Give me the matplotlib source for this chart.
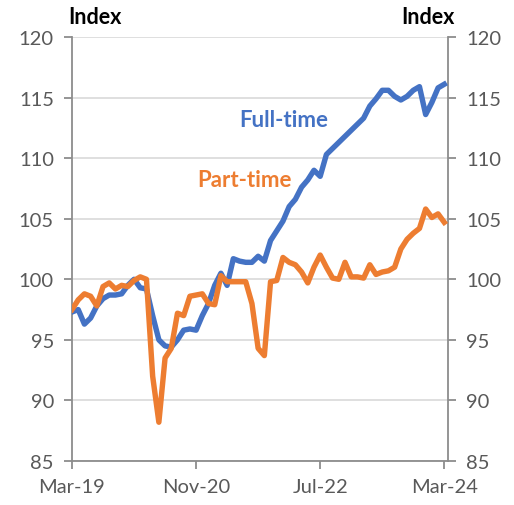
import matplotlib
matplotlib.use("Agg")
import matplotlib.pyplot as plt
import numpy as np

plt.rcParams['font.family'] = ['Lato', 'DejaVu Sans']

tick_labels = ["Mar-19", "Nov-20", "Jul-22", "Mar-24"]
tick_months = [0, 20, 40, 60]

full_time = [97.3, 97.5, 96.3, 96.8, 97.8, 98.4, 98.7, 98.7, 98.8, 99.5,
             100.0, 99.3, 99.2, 97.0, 95.0, 94.5, 94.4, 95.0, 95.8, 95.9,
             95.8, 97.0, 98.0, 99.5, 100.5, 99.5, 101.7, 101.5, 101.4, 101.4,
             101.9, 101.5, 103.2, 104.0, 104.8, 106.0, 106.6, 107.6, 108.2, 109.0,
             108.5, 110.3, 110.8, 111.3, 111.8, 112.3, 112.8, 113.3, 114.3, 114.9,
             115.6, 115.6, 115.1, 114.8, 115.1, 115.6, 115.9, 113.6, 114.6, 115.8,
             116.1]

part_time = [97.5, 98.3, 98.8, 98.6, 97.8, 99.4, 99.7, 99.2, 99.5, 99.4,
             99.9, 100.2, 100.0, 92.0, 88.2, 93.5, 94.3, 97.2, 97.0, 98.6,
             98.7, 98.8, 98.0, 97.9, 100.3, 99.8, 99.8, 99.8, 99.8, 98.0,
             94.3, 93.7, 99.8, 99.9, 101.8, 101.4, 101.2, 100.6, 99.7, 101.0,
             102.0, 101.0, 100.1, 100.0, 101.4, 100.2, 100.2, 100.1, 101.2, 100.4,
             100.6, 100.7, 101.0, 102.5, 103.3, 103.8, 104.2, 105.8, 105.1, 105.4,
             104.7]

months = np.arange(len(full_time))

fig = plt.figure(figsize=(5.14, 5.06), dpi=100)
ax = fig.add_axes([72/514, 44/506, 376/514, 424/506])

blue = "#4472C4"
orange = "#ED7D31"
gray = "#8c8c8c"
txtgray = "#595959"

ax.plot(months, full_time, color=blue, lw=3.9, solid_joinstyle='round', zorder=3)
ax.plot(months, part_time, color=orange, lw=3.9, solid_joinstyle='round', zorder=4)

ax.set_xlim(0, 60.6)
ax.set_ylim(85, 120)
yt = np.arange(85, 121, 5)
ax.set_yticks(yt)
ax.yaxis.grid(True, color="#d9d9d9", lw=1.2, zorder=0)
ax.set_axisbelow(True)
ax.set_xticks(tick_months)
ax.set_xticklabels(tick_labels)

ax.spines['top'].set_visible(False)
for s in ['left', 'right', 'bottom']:
    ax.spines[s].set_color(gray)
    ax.spines[s].set_linewidth(1.3)

ax.tick_params(axis='both', colors=gray, labelcolor=txtgray, labelsize=14.5,
               length=6, width=1.3, direction='out')
ax.tick_params(axis='x', pad=6)
ax.tick_params(axis='y', pad=7, right=True, labelright=True)

fig.text(68/514, 1 - 18/506, "Index", fontsize=15.5,
         fontweight='bold', ha='left', va='center', color='black')
fig.text(455/514, 1 - 18/506, "Index", fontsize=15.5,
         fontweight='bold', ha='right', va='center', color='black')

ax.text(27.0, 113.2, "Full-time", color=blue, fontsize=16, fontweight='bold',
        ha='left', va='center')
ax.text(20.2, 108.2, "Part-time", color=orange, fontsize=16, fontweight='bold',
        ha='left', va='center')

fig.savefig("out.png", dpi=100)
